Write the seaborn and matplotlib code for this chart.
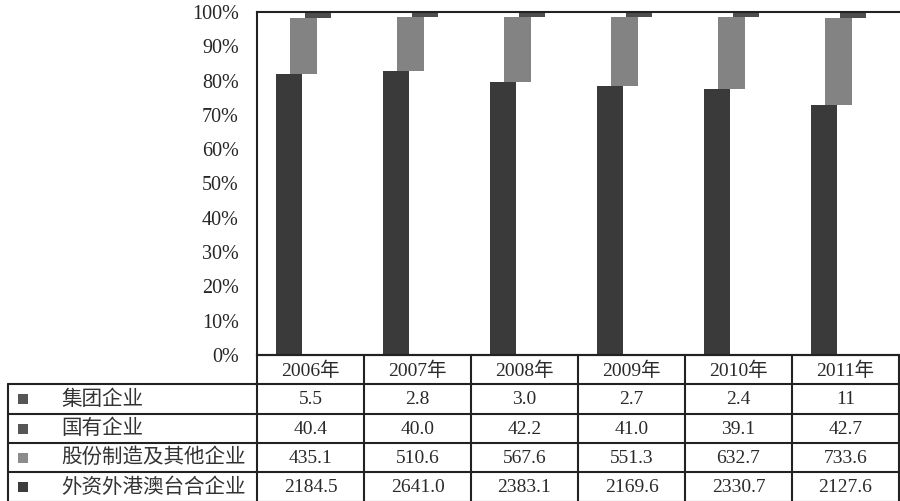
import numpy as np
import matplotlib
matplotlib.use('Agg')
import matplotlib.pyplot as plt
import seaborn as sns

# 样式
sns.set_style('white')
plt.rcParams['font.family'] = ['Liberation Serif', 'Noto Sans CJK SC']

# 数据
years = ['2006年', '2007年', '2008年', '2009年', '2010年', '2011年']
names = ['集团企业', '国有企业', '股份制造及其他企业', '外资外港澳台合企业']
jituan = ['5.5', '2.8', '3.0', '2.7', '2.4', '11']
guoyou = ['40.4', '40.0', '42.2', '41.0', '39.1', '42.7']
gufen = ['435.1', '510.6', '567.6', '551.3', '632.7', '733.6']
waizi = ['2184.5', '2641.0', '2383.1', '2169.6', '2330.7', '2127.6']
yticks = [0, 10, 20, 30, 40, 50, 60, 70, 80, 90, 100]

colors = {'集团企业': '#303030', '国有企业': '#4e4e4e',
          '股份制造及其他企业': '#838383', '外资外港澳台合企业': '#3a3a3a'}
legend_colors = ['#555555', '#565656', '#8c8c8c', '#3c3c3c']

rows = [jituan, guoyou, gufen, waizi]
vals = {n: np.array([float(v) for v in r]) for n, r in zip(names, rows)}
total = sum(vals.values())
pct = {n: vals[n] / total * 100 for n in names}

fig = plt.figure(figsize=(9, 5.01), dpi=100)
ax = fig.add_axes([257/900, 1 - 355/501, 642/900, 343/501])

# 阶梯式堆叠：底层在左，逐层右移
stack_order = ['外资外港澳台合企业', '股份制造及其他企业', '国有企业', '集团企业']
offsets = [-0.2, -0.065, 0.07, 0.205]
x = np.arange(len(years))
bottom = np.zeros(len(years))
for n, off in zip(stack_order, offsets):
    sns.barplot(x=x + off, y=pct[n], native_scale=True, width=0.245,
                bottom=bottom, color=colors[n], saturation=1,
                errorbar=None, linewidth=0, ax=ax)
    bottom = bottom + pct[n]

ax.set_xlim(-0.5, 5.5)
ax.set_ylim(0, 100)
ax.set_yticks(yticks)
ax.set_yticklabels([f'{t}%' for t in yticks], fontsize=14.5, color='#262626')
ax.set_xticks([])
ax.set_xlabel('')
ax.set_ylabel('')
ax.tick_params(axis='y', direction='in', length=5, width=1.3, pad=13, color='#222222')
for s in ['left', 'top', 'bottom']:
    ax.spines[s].set_color('#222222')
    ax.spines[s].set_linewidth(1.5)
ax.spines['right'].set_visible(False)

# 数据表
tab = fig.add_axes([0, 0, 1, 1])
tab.set_xlim(0, 900)
tab.set_ylim(501, 0)
tab.axis('off')
lc = '#222222'
tc = '#2a2a2a'
col_x = np.linspace(257, 899, len(years) + 1)
row_y = [355, 384, 414, 443, 472, 502]
# 表头
for i, yr in enumerate(years):
    tab.text((col_x[i] + col_x[i+1]) / 2, (row_y[0] + row_y[1]) / 2 + 1, yr,
             ha='center', va='center', fontsize=14, color=tc)
for yy in row_y[1:]:
    tab.plot([8, 899], [yy, yy], color=lc, lw=1.5)
tab.plot([257, 899], [row_y[0], row_y[0]], color=lc, lw=1.5)
for xx in col_x:
    tab.plot([xx, xx], [row_y[0], row_y[-1]], color=lc, lw=1.5)
tab.plot([8, 8], [row_y[1], row_y[-1]], color=lc, lw=1.5)
for r, (n, row) in enumerate(zip(names, rows)):
    yc = (row_y[r+1] + row_y[r+2]) / 2
    tab.add_patch(plt.Rectangle((18, yc - 5), 10, 10, color=legend_colors[r], lw=0))
    tab.text(61, yc + 1, n, ha='left', va='center', fontsize=14.8, color='#333333')
    for i, v in enumerate(row):
        tab.text((col_x[i] + col_x[i+1]) / 2, yc + 1, v, ha='center', va='center',
                 fontsize=14, color=tc)

plt.savefig('out.png', dpi=100)
plt.close()
